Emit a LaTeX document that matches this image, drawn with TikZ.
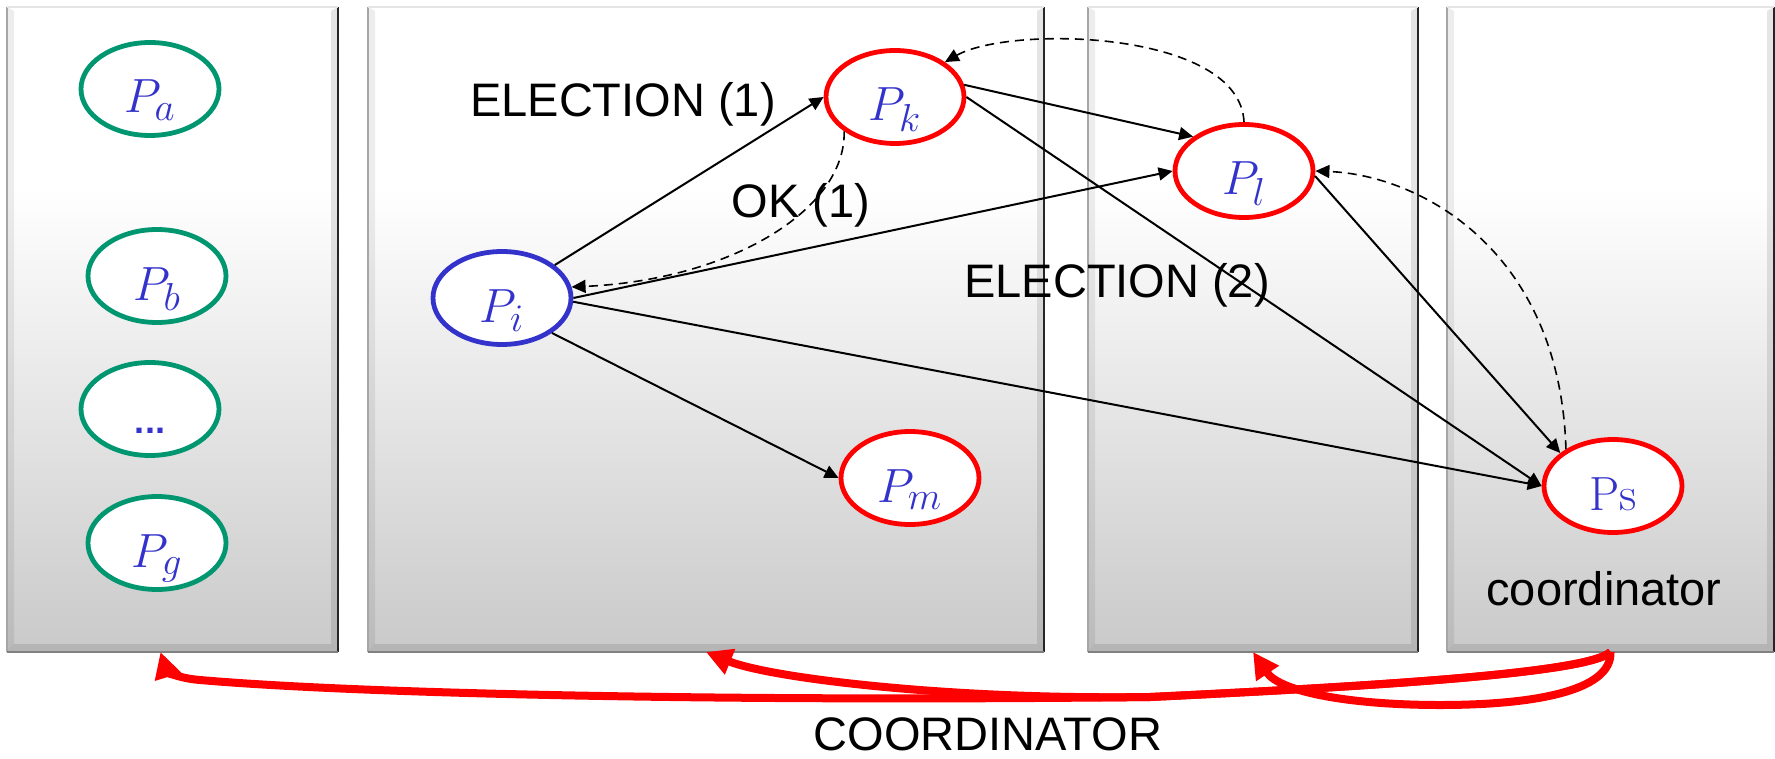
\RequirePackage{fix-cm}
\documentclass[tikz,border=0pt]{standalone}
\usepackage{fontspec}
\newfontfamily\lab{Liberation Sans}
\usetikzlibrary{arrows.meta,shapes.geometric,calc}
\DeclareMathSizes{24}{24}{19.5}{14}

\definecolor{procgreen}{RGB}{0,150,112}
\definecolor{procblue}{RGB}{51,51,204}
\definecolor{procred}{RGB}{255,0,0}

% panel fill: white in the upper part, fading to grey at the bottom
\pgfdeclareverticalshading{panelshade}{100bp}{color(0bp)=(black!21); color(25bp)=(black!21); color(61bp)=(white); color(100bp)=(white)}

% bevelled rim of a panel node
\newcommand\panelbevel[1]{%
  \fill[black,opacity=0.07] (#1.south west) -- (#1.north west) -- ([shift={(3.5pt,-2pt)}]#1.north west) -- ([shift={(3.5pt,4pt)}]#1.south west) -- cycle;
  \fill[black,opacity=0.10] (#1.south east) -- (#1.north east) -- ([shift={(-3.5pt,-2pt)}]#1.north east) -- ([shift={(-3.5pt,4pt)}]#1.south east) -- cycle;
  \fill[black,opacity=0.10] (#1.south west) -- (#1.south east) -- ([shift={(-3.5pt,4pt)}]#1.south east) -- ([shift={(3.5pt,4pt)}]#1.south west) -- cycle;
  \draw[gray!70, line width=0.8pt] (#1.south west) -- (#1.north west);
  \draw[black!85, line width=0.8pt] (#1.south east) -- (#1.north east);
  \draw[black!50, line width=1pt] (#1.south west) -- (#1.south east);
  \draw[gray!20, line width=0.6pt] (#1.north west) -- (#1.north east);
}

\tikzset{
  proc/.style={ellipse, draw, line width=2.4pt, fill=white, minimum width=69pt,
    minimum height=46.5pt, inner sep=0pt, text height=24pt, text depth=0pt,
    font=\fontsize{24}{28}\selectfont, text=procblue},
  grn/.style={proc, draw=procgreen},
  rd/.style={proc, draw=procred},
  bl/.style={proc, draw=procblue},
  msg/.style={-{Triangle[length=7pt,width=6.5pt]}, line width=1pt, black},
  reply/.style={msg, line width=0.8pt, dash pattern=on 4.5pt off 3pt},
  coord/.style={-{Triangle[length=13pt,width=13pt]}, line width=4pt, procred, line join=round},
  lbl/.style={font=\lab\fontsize{23.5}{28}\selectfont, anchor=base, inner sep=0pt},
  panel/.style={rectangle, shade, shading=panelshade, inner sep=0pt, outer sep=0pt, minimum height=322.5pt}
}

\begin{document}
\begin{tikzpicture}[x=0.5pt, y=-0.5pt]
  \fill[white] (0,0) rectangle (1775,759);
  \useasboundingbox (0,0) rectangle (1775,759);

  % groups of processes
  \node[panel, minimum width=165.5pt] (p1) at (172.5,329.5) {};
  \node[panel, minimum width=338pt]   (p2) at (706,329.5) {};
  \node[panel, minimum width=165pt]   (p3) at (1253,329.5) {};
  \node[panel, minimum width=163.5pt] (p4) at (1610.5,329.5) {};
  \panelbevel{p1}
  \panelbevel{p2}
  \panelbevel{p3}
  \panelbevel{p4}

  % message labels
  \node[lbl] (e1) at (623,117) {ELECTION (1)};
  \node[lbl] (ok) at (801,218) {OK (1)};
  \node[lbl] (e2) at (1117,297) {ELECTION (2)};
  \node[lbl] (cl) at (1604,605) {coordinator};
  \node[lbl] (cm) at (988,750) {COORDINATOR};

  % processes
  \node[grn] (Pa) at (150,89)  {$P_a$};
  \node[grn] (Pb) at (157,276) {$P_b$};
  \node[grn] (Pd) at (150,409) {\lab\bfseries\fontsize{18}{20}\selectfont ...};
  \node[grn] (Pg) at (157,543) {$P_g$};
  \node[bl]  (Pi) at (502,298) {$P_i$};
  \node[rd]  (Pk) at (895,97)  {$P_k$};
  \node[rd]  (Pl) at (1244,171) {$P_l$};
  \node[rd]  (Pm) at (910,478) {$P_m$};
  \node[rd]  (Ps) at (1613,486) {Ps};

  % election messages
  \draw[msg] (Pi.32) -- (Pk.west);
  \draw[msg] (Pi.east) -- (Pl.west);
  \draw[msg] (Pi.-3) -- (Ps.west);
  \draw[msg] (Pi.-35) -- (Pm.west);
  \draw[msg] (Pk.10) -- (Pl.146);
  \draw[msg] (Pk.east) -- (Ps.west);
  \draw[msg] (Pl.-4) -- (Ps.148);

  % OK replies
  \draw[reply] (Pk.214) .. controls (846,210) and (730,280) .. (Pi.9);
  \draw[reply] (Pl.north) .. controls (1240,30) and (1010,25) .. (Pk.35);
  \draw[reply] (Ps.142) .. controls (1560,250) and (1420,175) .. (Pl.east);

  % coordinator broadcast
  \draw[coord] (p4.south) .. controls (1590,672) and (1400,685) .. (1150,697)
    .. controls (700,702) and (350,693) .. (200,680)
    .. controls (175,678) and (166,670) .. ([xshift=-6pt]p1.south);
  \draw[coord] (p4.south) .. controls (1590,672) and (1400,685) .. (1150,697)
    .. controls (950,700) and (770,678) .. (p2.south);
  \draw[coord] (p4.south) .. controls (1612,692) and (1530,705) .. (1440,705)
    .. controls (1350,705) and (1280,692) .. (p3.south);
\end{tikzpicture}
\end{document}
